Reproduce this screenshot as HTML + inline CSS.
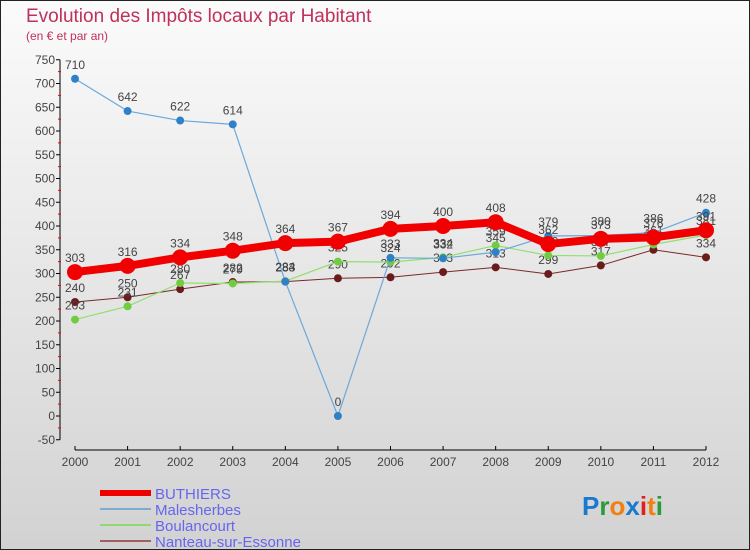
<!DOCTYPE html>
<html><head><meta charset="utf-8"><style>
body{margin:0}
#c{width:750px;height:550px;position:relative;overflow:hidden;background:linear-gradient(#fbfbfb,#d2d2d2);font-family:"Liberation Sans",sans-serif}
</style></head><body>
<div id="c">
<svg id="s" width="750" height="550"></svg>
</div>
<script>
const years=["2000","2001","2002","2003","2004","2005","2006","2007","2008","2009","2010","2011","2012"];
const buthiers=[303,316,334,348,364,367,394,400,408,362,373,376,391];
const malesherbes=[710,642,622,614,283,0,333,332,345,379,380,386,428];
const boulancourt=[203,231,280,279,284,325,324,334,359,338,337,361,381];
const nanteau=[240,250,267,282,283,290,292,303,313,299,317,350,334];
const yTicks=[-50,0,50,100,150,200,250,300,350,400,450,500,550,600,650,700,750];
const NS="http://www.w3.org/2000/svg";
const s=document.getElementById('s');
function X(i){return 75+i*(706-75)/12;}
function Y(v){return 416-v*0.475;}
function el(t,a,p){const e=document.createElementNS(NS,t);for(const k in a)e.setAttribute(k,a[k]);(p||s).appendChild(e);return e;}
el('rect',{x:0.5,y:0.5,width:749,height:549,fill:'none',stroke:'#222'});
let t=el('text',{x:26,y:22,fill:'#c0305a','font-size':19});t.textContent='Evolution des Impôts locaux par Habitant';


t=el('text',{x:26,y:40,fill:'#c0305a','font-size':12});t.textContent='(en € et par an)';


el('line',{x1:60,y1:Y(750),x2:60,y2:Y(-50),stroke:'#000'});
yTicks.forEach(v=>{
 el('line',{x1:56,y1:Y(v),x2:60,y2:Y(v),stroke:'#000'});
 if(v<750) el('line',{x1:58,y1:Y(v+25),x2:61,y2:Y(v+25),stroke:'#e00'});
 const l=el('text',{x:55,y:Y(v)+4,'text-anchor':'end','font-size':12,fill:'#444'});l.textContent=v;
 
 
});
el('line',{x1:X(0),y1:450,x2:X(12),y2:450,stroke:'#000'});
years.forEach((y,i)=>{
 el('line',{x1:X(i),y1:446,x2:X(i),y2:450,stroke:'#000'});
 const l=el('text',{x:X(i),y:466,'text-anchor':'middle','font-size':12,fill:'#444'});l.textContent=y;
 
 
});
function series(data,color,w,r,name,dot){
 const g=el('g',{});
 
 
 el('polyline',{points:data.map((v,i)=>X(i)+','+Y(v)).join(' '),fill:'none',stroke:color,'stroke-width':w,'stroke-linejoin':'round'},g);
 data.forEach((v,i)=>{
  const c=el('circle',{cx:X(i),cy:Y(v),r:r,fill:dot},g);
  
  
  const l=el('text',{x:X(i),y:Y(v)-10,'text-anchor':'middle','font-size':12,fill:'#444'},g);l.textContent=v;
  
  
 });
}
series(nanteau,'#7a2a2a',1,4,'series-nanteau','#6a1c1c');
series(boulancourt,'#90e070',1.2,4,'series-boulancourt','#70cc40');
series(malesherbes,'#6aa8dc',1.2,4,'series-malesherbes','#3080c8');
series(buthiers,'#f00000',8,8,'series-buthiers','#f00000');
const leg=[['BUTHIERS','#e00',6],['Malesherbes','#7aaed0',2],['Boulancourt','#90d870',2],['Nanteau-sur-Essonne','#a06060',2]];
leg.forEach((L,i)=>{
 const y=493+i*16;
 const g=el('g',{});
 
 
 el('line',{x1:100,y1:y,x2:151,y2:y,stroke:L[1],'stroke-width':L[2]},g);
 const tx=el('text',{x:155,y:y+6,'font-size':15,fill:'#6666ee'},g);tx.textContent=L[0];
});
const lg=el('text',{x:582,y:515,'font-size':26,'font-weight':'bold'});


[['P','#1a7ad0'],['r','#2a9a3a'],['o','#f08010'],['x','#1a7ad0'],['i','#e02020'],['t','#f08010'],['i','#2a9a3a']].forEach(a=>{const ts=el('tspan',{fill:a[1]},lg);ts.textContent=a[0];});
</script>
</body></html>
